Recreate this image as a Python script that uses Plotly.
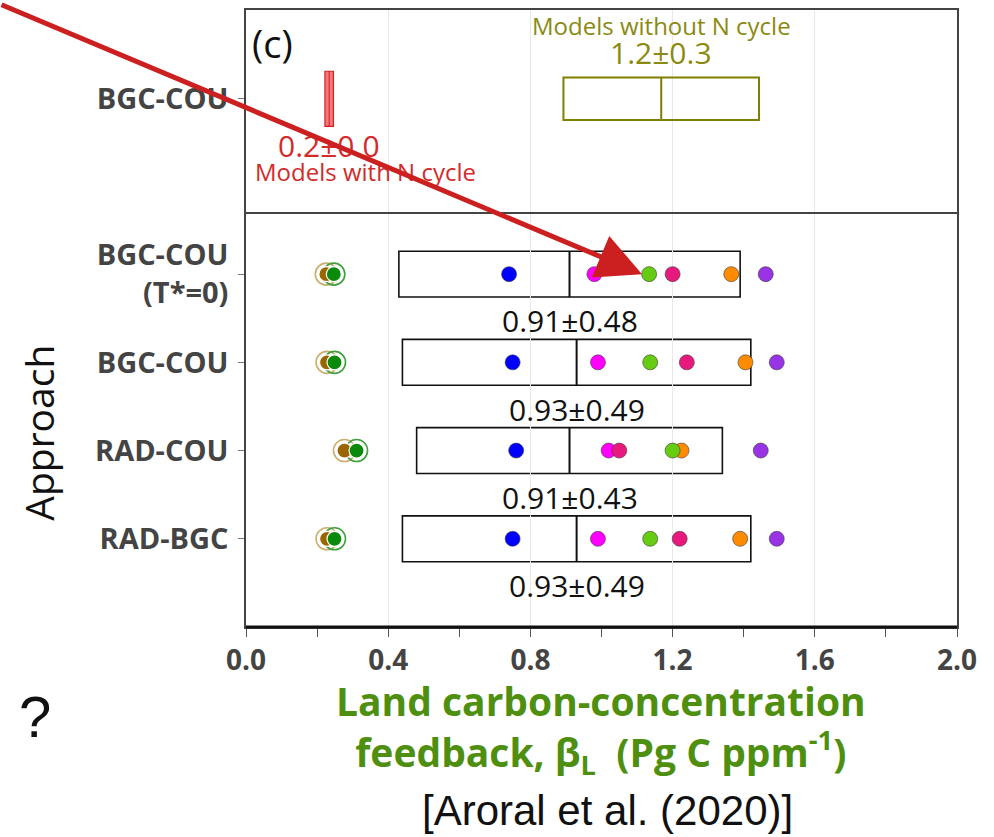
import plotly.graph_objects as go

# ---------------- data ----------------
approaches = ["RAD-BGC", "RAD-COU", "BGC-COU", "BGC-COU<br>(T*=0)"]
rows = [0, 1, 2, 3]
box_mean = [0.93, 0.91, 0.93, 0.91]
box_std = [0.49, 0.43, 0.49, 0.48]

# individual models (values per approach, bottom-up order)
model_names = ["blue", "magenta", "pink", "orange", "lime", "purple"]
model_colors = ["#0000ff", "#ff00ff", "#e8197d", "#ff8c00", "#66cc11", "#9933e6"]
model_values = [
    [0.75, 0.76, 0.75, 0.74],     # blue
    [0.99, 1.02, 0.99, 0.98],     # magenta
    [1.22, 1.05, 1.24, 1.20],     # pink
    [1.39, 1.225, 1.405, 1.365],  # orange
    [1.137, 1.20, 1.137, 1.134],  # lime
    [1.493, 1.448, 1.493, 1.462], # purple
]
# N-cycle models (filled dot + ring)
ncyc_names = ["brown", "green"]
ncyc_fill = ["#996600", "#0a8a0a"]
ncyc_ring = ["#c8b070", "#40a040"]
ncyc_values = [
    [0.228, 0.277, 0.228, 0.226],
    [0.249, 0.311, 0.249, 0.247],
]

# top panel
top_label = ["BGC-COU"]
with_n_mean, with_n_std = 0.234, 0.012
without_n_mean, without_n_std = 1.168, 0.275

# ---------------- figure ----------------
FONT = "Open Sans"
fig = go.Figure()

BOX_H = 0.26
shapes = []
for r, m, s in zip(rows, box_mean, box_std):
    shapes.append(dict(type="rect", xref="x", yref="y", x0=m - s, x1=m + s,
                       y0=r - BOX_H, y1=r + BOX_H,
                       line=dict(color="#111111", width=1.6), layer="below"))
    shapes.append(dict(type="line", xref="x", yref="y", x0=m, x1=m,
                       y0=r - BOX_H, y1=r + BOX_H,
                       line=dict(color="#111111", width=2), layer="below"))

# top panel boxes
shapes.append(dict(type="rect", xref="x2", yref="y2",
                   x0=without_n_mean - without_n_std, x1=without_n_mean + without_n_std,
                   y0=-0.24, y1=0.24, line=dict(color="#7f7f00", width=2)))
shapes.append(dict(type="line", xref="x2", yref="y2", x0=without_n_mean, x1=without_n_mean,
                   y0=-0.24, y1=0.24, line=dict(color="#7f7f00", width=2)))
shapes.append(dict(type="rect", xref="x2", yref="y2",
                   x0=with_n_mean - with_n_std, x1=with_n_mean + with_n_std,
                   y0=-0.31, y1=0.31, fillcolor="#f07a7a",
                   line=dict(color="#d02020", width=1.2)))
shapes.append(dict(type="line", xref="x2", yref="y2", x0=with_n_mean, x1=with_n_mean,
                   y0=-0.31, y1=0.31, line=dict(color="#d02020", width=1)))
# thicker bottom axis line
shapes.append(dict(type="line", xref="paper", yref="paper", x0=0, x1=1, y0=0, y1=0,
                   line=dict(color="#111111", width=3)))

# N-cycle models: ring + dot
for name, vals, fc, rc in zip(ncyc_names, ncyc_values, ncyc_fill, ncyc_ring):
    fig.add_trace(go.Scatter(x=vals, y=rows, mode="markers", name=name + " ring",
                             marker=dict(symbol="circle-open", size=22, color=rc,
                                         line=dict(color=rc, width=1.6)),
                             showlegend=False, hoverinfo="skip"))
for name, vals, fc, rc in zip(ncyc_names, ncyc_values, ncyc_fill, ncyc_ring):
    fig.add_trace(go.Scatter(x=vals, y=rows, mode="markers", name=name,
                             marker=dict(size=15, color=fc,
                                         line=dict(color="#ffffff", width=1.2)),
                             showlegend=False))

for name, vals, col in zip(model_names, model_values, model_colors):
    fig.add_trace(go.Scatter(x=vals, y=rows, mode="markers", name=name,
                             marker=dict(size=15, color=col,
                                         line=dict(color="rgba(60,60,60,0.6)", width=1)),
                             showlegend=False))

# invisible trace on the top panel so its axes exist
fig.add_trace(go.Scatter(x=[with_n_mean, without_n_mean], y=[0, 0], xaxis="x2", yaxis="y2",
                         mode="markers", marker=dict(size=1, opacity=0),
                         showlegend=False, hoverinfo="skip"))

ann = []
for r, m, s in zip(rows, box_mean, box_std):
    ann.append(dict(x=m, y=r - 0.53, xref="x", yref="y", text=f"{m:.2f}±{s:.2f}",
                    xanchor="center", yanchor="middle",
                    showarrow=False, font=dict(family=FONT, size=30, color="#111111")))

olive = "#8a8a10"
redt = "#d42a2a"
ann += [
    dict(x=without_n_mean, y=0.82, xref="x2", yref="y2", text="Models without N cycle",
         xanchor="center", yanchor="middle",
         showarrow=False, font=dict(family=FONT, size=24, color=olive)),
    dict(x=without_n_mean, y=0.52, xref="x2", yref="y2",
         text=f"{without_n_mean:.1f}±{without_n_std:.1f}", xanchor="center", yanchor="middle",
         showarrow=False, font=dict(family=FONT, size=30, color=olive)),
    dict(x=with_n_mean, y=-0.53, xref="x2", yref="y2",
         text=f"{with_n_mean:.1f}±{with_n_std:.1f}", xanchor="center", yanchor="middle",
         showarrow=False, font=dict(family=FONT, size=30, color=redt)),
    dict(x=0.02, y=-0.82, xref="x2", yref="y2", text="Models with N cycle",
         xanchor="left", yanchor="middle",
         showarrow=False, font=dict(family=FONT, size=24, color=redt)),
    dict(x=0.006, y=0.946, xref="paper", yref="paper", text="(c)",
         xanchor="left", yanchor="middle",
         showarrow=False, font=dict(family=FONT, size=38, color="#111111")),
    dict(x=-0.291, y=0.315, xref="paper", yref="paper", text="Approach", textangle=-90,
         xanchor="center", yanchor="middle",
         showarrow=False, font=dict(family=FONT, size=39, color="#111111")),
    dict(x=0.499, y=-0.164, xref="paper", yref="paper",
         text="<b>Land carbon-concentration<br>feedback, β<sub>L</sub>  (Pg C ppm<sup>-1</sup>)</b>",
         xanchor="center", yanchor="middle",
         showarrow=False, font=dict(family=FONT, size=39, color="#4f8f10")),
    dict(x=0.509, y=-0.297, xref="paper", yref="paper", text="[Aroral et al. (2020)]",
         xanchor="center", yanchor="middle",
         showarrow=False, font=dict(family="Liberation Sans", size=42, color="#111111")),
    dict(x=-0.297, y=-0.145, xref="paper", yref="paper", text="?",
         xanchor="center", yanchor="middle",
         showarrow=False, font=dict(family="Liberation Sans", size=58, color="#111111")),
    # red arrow pointing to a model dot
    dict(x=model_values[4][3] - 0.02, y=rows[3], xref="x", yref="y", ax=-642, ay=-270,
         axref="pixel", ayref="pixel", text="", showarrow=True,
         arrowhead=2, arrowsize=1.8, arrowwidth=5, arrowcolor="#cc2020"),
]

tickfont = dict(family=FONT, size=29, color="#444444", weight="bold")
fig.update_layout(
    width=994, height=837,
    margin=dict(l=246, r=37, t=8, b=210),
    paper_bgcolor="white", plot_bgcolor="white",
    showlegend=False,
    shapes=shapes, annotations=ann,
    xaxis=dict(domain=[0, 1], anchor="y", range=[0, 2], tick0=0, dtick=0.4,
               tickformat=".1f", showgrid=True, gridcolor="#e8e8e8", gridwidth=1,
               zeroline=False, ticks="outside", ticklen=8, tickwidth=1.2, tickcolor="#555",
               minor=dict(dtick=0.2, ticks="outside", ticklen=8, tickcolor="#555", showgrid=False),
               showline=True, linecolor="#444444", linewidth=1.5, mirror=False,
               tickfont=dict(family=FONT, size=28, color="#444444", weight="bold")),
    xaxis2=dict(domain=[0, 1], anchor="y2", matches="x", range=[0, 2], tick0=0, dtick=0.4,
                showgrid=True, gridcolor="#e8e8e8", zeroline=False, showticklabels=False,
                ticks="", showline=True, linecolor="#444444", linewidth=1.5, mirror=True),
    yaxis=dict(domain=[0, 0.672], anchor="x", range=[-1, 3.7], tickvals=rows,
               ticktext=approaches, showgrid=False, zeroline=False,
               ticks="outside", ticklen=6, tickcolor="#777", ticklabelstandoff=4,
               showline=True, linecolor="#444444", linewidth=1.5, mirror=True,
               tickfont=tickfont),
    yaxis2=dict(domain=[0.672, 1], anchor="x2", range=[-1.28, 1.0], tickvals=[0],
                ticktext=top_label, showgrid=False, zeroline=False,
                ticks="outside", ticklen=6, tickcolor="#777", ticklabelstandoff=4,
                showline=True, linecolor="#444444", linewidth=1.5, mirror=True,
                tickfont=tickfont),
)

fig.write_html("out.html")
